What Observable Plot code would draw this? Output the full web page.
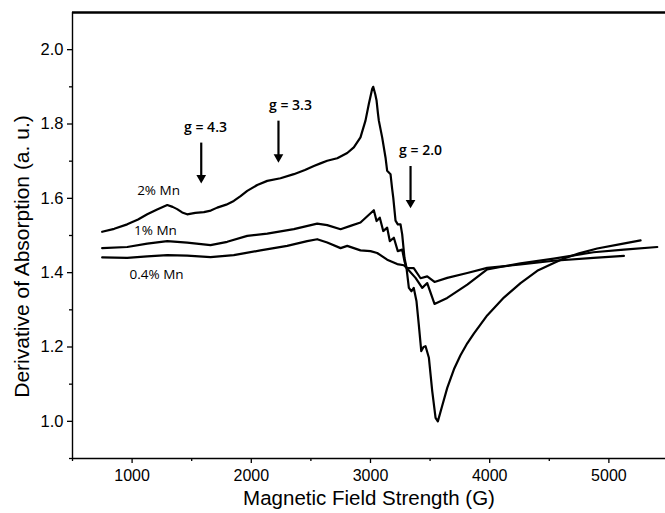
<!DOCTYPE html>
<html>
<head>
<meta charset="utf-8">
<script src="https://cdn.jsdelivr.net/npm/d3@7"></script>
<script src="https://cdn.jsdelivr.net/npm/@observablehq/plot@0.6"></script>
<style>
  html, body { margin: 0; padding: 0; background: #fff; }
  #chart svg { display: block; overflow: visible; }
</style>
</head>
<body>
<div id="chart"></div>
<script>
// ---- Data ----
const field2 = [749, 850, 959, 1050, 1127, 1210, 1295, 1340, 1378, 1420, 1462, 1530, 1602, 1660, 1714, 1790, 1853, 1910, 1966, 2050, 2134, 2245, 2357, 2450, 2525, 2580, 2637, 2721, 2805, 2860, 2916, 2958, 2986, 3014, 3023, 3040, 3051, 3062, 3070, 3098, 3126, 3140, 3168, 3182, 3191, 3210, 3229, 3252, 3266, 3285, 3302, 3322, 3344, 3363, 3386, 3405, 3426, 3445, 3462, 3490, 3518, 3546, 3565, 3600, 3644, 3700, 3755, 3812, 3867, 3979, 4119, 4259, 4399, 4538, 4622, 4750, 4902, 5098, 5266];
const mn2 = [1.510, 1.518, 1.530, 1.543, 1.557, 1.570, 1.582, 1.577, 1.571, 1.562, 1.557, 1.561, 1.563, 1.567, 1.575, 1.583, 1.593, 1.606, 1.620, 1.636, 1.647, 1.654, 1.665, 1.676, 1.687, 1.694, 1.701, 1.708, 1.722, 1.737, 1.764, 1.809, 1.854, 1.894, 1.900, 1.880, 1.863, 1.830, 1.809, 1.764, 1.710, 1.674, 1.665, 1.625, 1.602, 1.540, 1.530, 1.530, 1.503, 1.440, 1.413, 1.359, 1.350, 1.359, 1.323, 1.261, 1.189, 1.200, 1.202, 1.171, 1.081, 1.009, 1.000, 1.040, 1.090, 1.140, 1.178, 1.210, 1.236, 1.285, 1.333, 1.372, 1.405, 1.426, 1.438, 1.452, 1.465, 1.477, 1.487];

const field1 = [749, 959, 1127, 1295, 1462, 1658, 1798, 1966, 2134, 2357, 2553, 2637, 2749, 2832, 2916, 3028, 3051, 3078, 3107, 3140, 3162, 3196, 3229, 3266, 3285, 3302, 3378, 3434, 3476, 3537, 3644, 3812, 3979, 4259, 4538, 4871, 5126, 5406];
const mn1 = [1.466, 1.469, 1.478, 1.485, 1.481, 1.474, 1.483, 1.499, 1.505, 1.517, 1.532, 1.528, 1.517, 1.526, 1.535, 1.568, 1.539, 1.548, 1.512, 1.521, 1.485, 1.494, 1.458, 1.462, 1.431, 1.413, 1.386, 1.359, 1.372, 1.316, 1.332, 1.368, 1.409, 1.425, 1.438, 1.455, 1.462, 1.469];

const field04 = [749, 959, 1127, 1295, 1462, 1658, 1853, 2077, 2301, 2469, 2553, 2637, 2749, 2805, 2916, 3000, 3056, 3140, 3224, 3280, 3302, 3363, 3420, 3476, 3537, 3644, 3812, 3979, 4259, 4538, 4871, 5126];
const mn04 = [1.441, 1.440, 1.444, 1.447, 1.446, 1.442, 1.447, 1.460, 1.472, 1.485, 1.490, 1.481, 1.466, 1.472, 1.460, 1.458, 1.453, 1.435, 1.423, 1.420, 1.413, 1.412, 1.385, 1.390, 1.375, 1.386, 1.399, 1.413, 1.422, 1.432, 1.440, 1.445];

const seriesLabels = ["2% Mn", "1% Mn", "0.4% Mn"];
const seriesLabelX = [1222, 1196, 1205];
const seriesLabelY = [1.620, 1.512, 1.394];

const gLabels = ["g = 4.3", "g = 3.3", "g = 2.0"];
const gLabelX = [1616, 2329, 3420];
const gLabelY = [1.790, 1.849, 1.728];
const arrowX = [1580, 2228, 3336];
const arrowTop = [1.750, 1.809, 1.687];
const arrowTip = [1.647, 1.703, 1.580];

const xTicks = [1000, 2000, 3000, 4000, 5000];
const xMinor = [500, 1500, 2500, 3500, 4500];
const yTicks = [1.0, 1.2, 1.4, 1.6, 1.8, 2.0];
const yMinor = [0.9, 1.1, 1.3, 1.5, 1.7, 1.9];

const xTitle = "Magnetic Field Strength (G)";
const yTitle = "Derivative of Absorption (a. u.)";

// ---- Build tables ----
const toRows = (xs, ys) => xs.map((x, i) => ({x, y: ys[i]}));
const s2 = toRows(field2, mn2);
const s1 = toRows(field1, mn1);
const s04 = toRows(field04, mn04);
const lab = seriesLabels.map((t, i) => ({t, x: seriesLabelX[i], y: seriesLabelY[i]}));
const gl = gLabels.map((t, i) => ({t, x: gLabelX[i], y: gLabelY[i], ax: arrowX[i], y1: arrowTop[i], y2: arrowTip[i]}));

const annoFont = "'Open Sans', 'Noto Sans', sans-serif";

const chart = Plot.plot({
  width: 665,
  height: 513,
  marginLeft: 72,
  marginRight: 0,
  marginTop: 12,
  marginBottom: 55,
  style: {fontFamily: "'Liberation Sans', Arial, sans-serif", background: "#fff", color: "#000"},
  x: {domain: [500, 5475]},
  y: {domain: [0.9, 2.1]},
  marks: [
    Plot.ruleY([2.1], {stroke: "#000", strokeWidth: 2.5}),
    Plot.ruleX([500], {stroke: "#000", strokeWidth: 1.4}),
    Plot.ruleY([0.9], {stroke: "#000", strokeWidth: 1.4}),
    Plot.axisY(yTicks, {tickSize: 5, tickPadding: 4, fontSize: 16.5, label: null, tickFormat: d => d.toFixed(1), strokeWidth: 1.3}),
    Plot.axisY(yMinor, {tickSize: 3, text: null, label: null, strokeWidth: 1.3}),
    Plot.axisX(xTicks, {tickSize: 5, tickPadding: 6, fontSize: 16, label: null, tickFormat: d => String(d), strokeWidth: 1.3}),
    Plot.axisX(xMinor, {tickSize: 3, text: null, label: null, strokeWidth: 1.3}),
    Plot.line(s2, {x: "x", y: "y", stroke: "#000", strokeWidth: 2.2, strokeLinejoin: "round"}),
    Plot.line(s1, {x: "x", y: "y", stroke: "#000", strokeWidth: 2.2, strokeLinejoin: "round"}),
    Plot.line(s04, {x: "x", y: "y", stroke: "#000", strokeWidth: 2.2, strokeLinejoin: "round"}),
    Plot.text(lab, {x: "x", y: "y", text: "t", fontSize: 13.5, fontFamily: annoFont, fill: "#000"}),
    Plot.text(gl, {x: "x", y: "y", text: "t", fontSize: 14, fontWeight: "600", fontFamily: annoFont, fill: "#000"}),
    Plot.link(gl, {x1: "ax", x2: "ax", y1: "y1", y2: "y2", stroke: "#000", strokeWidth: 2.2}),
    Plot.dot(gl, {x: "ax", y: "y2", symbol: "triangle", rotate: 180, r: 3.6, fill: "#000", stroke: "none", dy: -3}),
    Plot.text([xTitle], {frameAnchor: "bottom", dy: 46, fontSize: 20.5, fill: "#000"}),
    Plot.text([yTitle], {frameAnchor: "left", textAnchor: "middle", dx: -50, dy: 21, rotate: -90, fontSize: 21, fill: "#000"})
  ]
});
document.getElementById("chart").appendChild(chart);
</script>
</body>
</html>
